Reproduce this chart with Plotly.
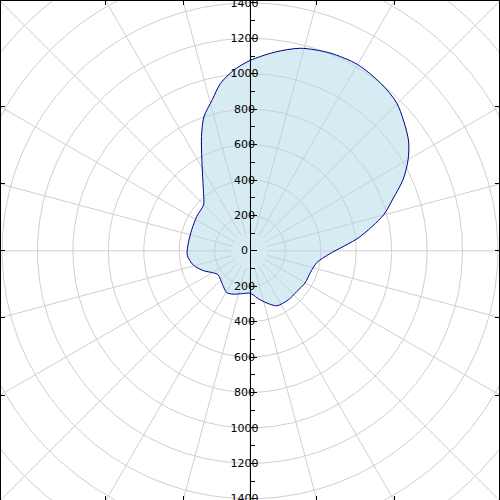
import numpy as np
import plotly.graph_objects as go

# Compass direction (degrees clockwise from north) and radial value
angles = [0, 7, 14, 22, 30, 38, 45, 55, 60, 65, 70, 75, 83, 92, 100, 110, 120,
          131, 142, 154, 162, 170, 176, 180, 190, 201, 209, 219, 233, 239, 247,
          256, 266, 277, 290, 303, 315, 321, 332, 337, 341, 346, 350, 355]
radii = [1075, 1130, 1179, 1205, 1215, 1200, 1175, 1092, 1031, 954, 859, 780, 620, 452, 383, 362, 360,
         350, 351, 345, 310, 275, 249, 239, 245, 262, 270, 246, 225, 241, 286,
         330, 355, 351, 350, 358, 370, 417, 579, 701, 800, 880, 960, 1026]

radial_ticks = [-1400, -1200, -1000, -800, -600, -400, -200, 0, 200, 400, 600, 800, 1000, 1200, 1400]
tick_labels = [str(abs(v)) for v in radial_ticks]

grid_radii = list(range(200, 2001, 200))
spoke_angles = list(range(0, 360, 15))

XR = [-1406, 1406]
YR = [-1407, 1411]

fig = go.Figure()

# circular grid
gx, gy = [], []
t = np.linspace(0, 2 * np.pi, 721)
for r in grid_radii:
    gx += list(r * np.sin(t)) + [None]
    gy += list(r * np.cos(t)) + [None]
# spokes
for a in spoke_angles:
    th = np.radians(a)
    gx += [100 * np.sin(th), 2100 * np.sin(th), None]
    gy += [100 * np.cos(th), 2100 * np.cos(th), None]
fig.add_trace(go.Scatter(x=gx, y=gy, mode="lines",
                         line=dict(color="#cfcfcf", width=1),
                         hoverinfo="skip", showlegend=False))

# data
th = np.radians(np.array(angles + [angles[0]], dtype=float))
rr = np.array(radii + [radii[0]], dtype=float)
fig.add_trace(go.Scatter(x=rr * np.sin(th), y=rr * np.cos(th), mode="lines",
                         fill="toself", fillcolor="rgba(173,216,230,0.5)",
                         line=dict(color="darkblue", width=1, shape="spline", smoothing=0.8),
                         showlegend=False))

# radial axis labels
fig.add_trace(go.Scatter(x=[-31] * len(radial_ticks), y=[v - 5 for v in radial_ticks],
                         mode="text", text=tick_labels, textposition="middle center",
                         textfont=dict(family="DejaVu Sans", size=11, color="black"),
                         cliponaxis=False,
                         xaxis="x", yaxis="y2", hoverinfo="skip", showlegend=False))

frame_ticks = [YR[1] * np.tan(np.radians(a)) for a in (-30, -15, 0, 15, 30)]

fig.update_layout(
    width=500, height=500,
    margin=dict(l=1, r=1, t=1, b=0, pad=0, autoexpand=False),
    paper_bgcolor="white", plot_bgcolor="white",
    xaxis=dict(range=XR, showgrid=False, zeroline=False, showline=True, linecolor="black",
               linewidth=1, mirror="ticks", ticks="inside", ticklen=4, tickcolor="black",
               tickvals=frame_ticks, showticklabels=False, fixedrange=True, automargin=False),
    yaxis=dict(range=YR, showgrid=False, zeroline=False, showline=True, linecolor="black",
               linewidth=1, mirror="ticks", ticks="inside", ticklen=4, tickcolor="black",
               tickvals=frame_ticks, showticklabels=False, fixedrange=True, automargin=False),
    yaxis2=dict(range=YR, overlaying="y", anchor="free", position=0.5, side="right",
                showgrid=False, zeroline=False, showline=True, linecolor="black", linewidth=1,
                ticks="outside", ticklen=6, tickcolor="black", tickvals=radial_ticks,
                showticklabels=False, automargin=False,
                minor=dict(ticks="outside", ticklen=4, tickcolor="black", dtick=100, tick0=0),
                fixedrange=True),
)

fig.write_html("out.html", config={"displayModeBar": False},
               post_script="document.body.style.margin='0';document.body.style.padding='0';")
